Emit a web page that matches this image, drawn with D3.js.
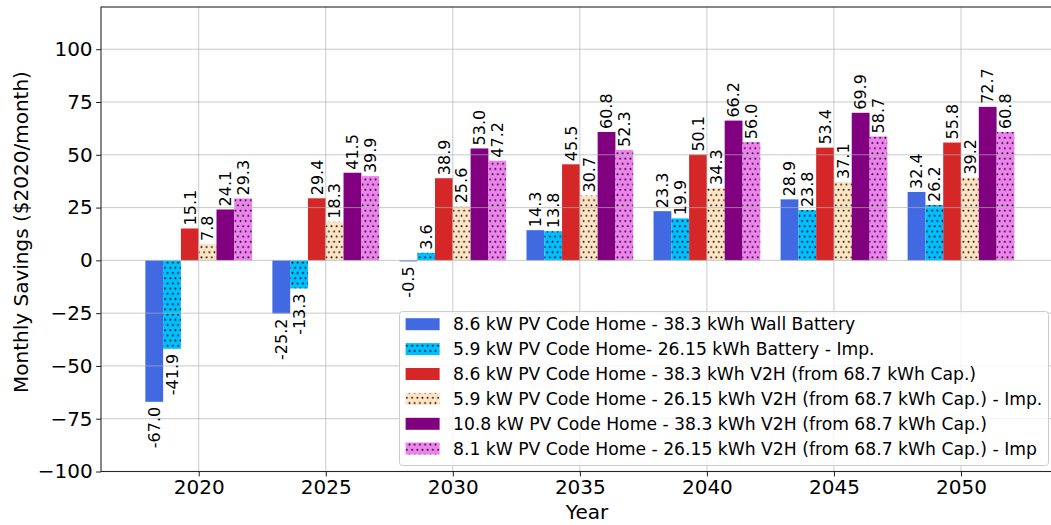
<!DOCTYPE html>
<html>
<head>
<meta charset="utf-8">
<script src="https://cdn.jsdelivr.net/npm/d3@7"></script>
<style>
  html, body { margin: 0; padding: 0; background: #fff; }
  svg { display: block; font-family: "DejaVu Sans", sans-serif; }
</style>
</head>
<body>
<svg id="chart" width="1051" height="525"></svg>
<script>
// ---- Data ----
const years = [2020, 2025, 2030, 2035, 2040, 2045, 2050];
const seriesNames = [
  "8.6 kW PV Code Home - 38.3 kWh Wall Battery",
  "5.9 kW PV Code Home- 26.15 kWh Battery - Imp.",
  "8.6 kW PV Code Home - 38.3 kWh V2H (from 68.7 kWh Cap.)",
  "5.9 kW PV Code Home - 26.15 kWh V2H (from 68.7 kWh Cap.) - Imp.",
  "10.8 kW PV Code Home - 38.3 kWh V2H (from 68.7 kWh Cap.)",
  "8.1 kW PV Code Home - 26.15 kWh V2H (from 68.7 kWh Cap.) - Imp"
];
const wallBattery86 = [-67.0, -25.2, -0.5, 14.3, 23.3, 28.9, 32.4];
const battery59Imp = [-41.9, -13.3, 3.6, 13.8, 19.9, 23.8, 26.2];
const v2h86 = [15.1, 29.4, 38.9, 45.5, 50.1, 53.4, 55.8];
const v2h59Imp = [7.8, 18.3, 25.6, 30.7, 34.3, 37.1, 39.2];
const v2h108 = [24.1, 41.5, 53.0, 60.8, 66.2, 69.9, 72.7];
const v2h81Imp = [29.3, 39.9, 47.2, 52.3, 56.0, 58.7, 60.8];
const seriesValues = [wallBattery86, battery59Imp, v2h86, v2h59Imp, v2h108, v2h81Imp];
const yTicks = [-100, -75, -50, -25, 0, 25, 50, 75, 100];
const xTicks = [2020, 2025, 2030, 2035, 2040, 2045, 2050];

// ---- Styles ----
const colors = ["#4169E1", "#00BFFF", "#D62728", "#FFE4C4", "#800080", "#EE82EE"];
const hatched = [false, true, false, true, false, true];
const barWidth = 0.7;

const svg = d3.select("#chart");
const plotLeft = 101, plotRight = 1058.7, plotTop = 7, plotBottom = 471.5;

const x = d3.scaleLinear().domain([2016.155, 2053.845]).range([plotLeft, plotRight]);
const y = d3.scaleLinear().domain([-100, 120]).range([plotBottom, plotTop]);

// patterns
const defs = svg.append("defs");
colors.forEach((c, i) => {
  if (!hatched[i]) return;
  const p = defs.append("pattern")
    .attr("id", "hatch" + i)
    .attr("patternUnits", "userSpaceOnUse")
    .attr("width", 5.2).attr("height", 10.4);
  p.append("rect").attr("width", 5.2).attr("height", 10.4).attr("fill", c);
  p.append("circle").attr("cx", 1.3).attr("cy", 2.6).attr("r", 0.9).attr("fill", "#000");
  p.append("circle").attr("cx", 3.9).attr("cy", 7.8).attr("r", 0.9).attr("fill", "#000");
});
const fillFor = i => hatched[i] ? `url(#hatch${i})` : colors[i];

svg.append("rect").attr("width", 1051).attr("height", 525).attr("fill", "#fff");

// clip
defs.append("clipPath").attr("id", "plotclip")
  .append("rect").attr("x", plotLeft).attr("y", plotTop)
  .attr("width", plotRight - plotLeft).attr("height", plotBottom - plotTop);

// bars
const barsG = svg.append("g").attr("clip-path", "url(#plotclip)");
seriesValues.forEach((vals, si) => {
  barsG.selectAll(null).data(vals.map((v, k) => ({ v, yr: years[k] })))
    .enter().append("rect")
    .attr("x", d => x(d.yr + (si - 2.5) * barWidth - barWidth / 2))
    .attr("width", d => x(d.yr + (si - 2.5) * barWidth + barWidth / 2) - x(d.yr + (si - 2.5) * barWidth - barWidth / 2))
    .attr("y", d => y(Math.max(0, d.v)))
    .attr("height", d => Math.abs(y(d.v) - y(0)))
    .attr("fill", fillFor(si));
});

// grid (above bars, like matplotlib)
const gridG = svg.append("g").attr("clip-path", "url(#plotclip)");
gridG.selectAll(".hg").data(yTicks).enter().append("line")
  .attr("x1", plotLeft).attr("x2", plotRight)
  .attr("y1", d => y(d)).attr("y2", d => y(d))
  .attr("stroke", "#b0b0b0").attr("stroke-width", 0.8).attr("stroke-opacity", 0.85);
gridG.selectAll(".vg").data(xTicks).enter().append("line")
  .attr("y1", plotTop).attr("y2", plotBottom)
  .attr("x1", d => x(d)).attr("x2", d => x(d))
  .attr("stroke", "#b0b0b0").attr("stroke-width", 0.8).attr("stroke-opacity", 0.85);

// axes
const yAxis = d3.axisLeft(y).tickValues(yTicks).tickSize(4.9).tickPadding(3.5);
const yg = svg.append("g").attr("transform", `translate(${plotLeft},0)`).call(yAxis);
yg.select(".domain").remove();
yg.selectAll("text").attr("font-size", 20).attr("fill", "#000").attr("font-family", "DejaVu Sans");
yg.selectAll("line").attr("stroke", "#000").attr("stroke-width", 0.9);

const xAxis = d3.axisBottom(x).tickValues(xTicks).tickFormat(d3.format("d")).tickSize(4.9).tickPadding(3.5);
const xg = svg.append("g").attr("transform", `translate(0,${plotBottom})`).call(xAxis);
xg.select(".domain").remove();
xg.selectAll("text").attr("font-size", 20).attr("fill", "#000").attr("font-family", "DejaVu Sans");
xg.selectAll("line").attr("stroke", "#000").attr("stroke-width", 0.9);

// spines
svg.append("rect").attr("x", plotLeft).attr("y", plotTop)
  .attr("width", plotRight - plotLeft).attr("height", plotBottom - plotTop)
  .attr("fill", "none").attr("stroke", "#262626").attr("stroke-width", 1.1);

// axis labels
svg.append("text").attr("x", (plotLeft + 1051) / 2 + 11).attr("y", 519)
  .attr("text-anchor", "middle").attr("font-size", 20).text("Year");
svg.append("text").attr("transform", "translate(28,232) rotate(-90)")
  .attr("text-anchor", "middle").attr("font-size", 20).text("Monthly Savings ($2020/month)");

// bar value labels
const labG = svg.append("g");
seriesValues.forEach((vals, si) => {
  vals.forEach((v, k) => {
    const cx = x(years[k] + (si - 2.5) * barWidth);
    const pos = v >= 0;
    const yy = pos ? y(v) - 3 : y(v) + 5;
    labG.append("text")
      .attr("transform", `translate(${cx},${yy}) rotate(-90)`)
      .attr("text-anchor", pos ? "start" : "end")
      .attr("dy", "0.36em")
      .attr("font-size", 16)
      .attr("fill", "#000")
      .text(v.toFixed(1));
  });
});

// legend
const lg = svg.append("g");
lg.append("rect").attr("x", 399.5).attr("y", 311.5).attr("width", 649).attr("height", 154)
  .attr("rx", 3).attr("fill", "#fff").attr("fill-opacity", 0.8)
  .attr("stroke", "#cccccc").attr("stroke-width", 1);
const rowY = [324.2, 349.1, 374, 398.9, 423.8, 448.5];
seriesNames.forEach((name, i) => {
  lg.append("rect").attr("x", 405.6).attr("y", rowY[i] - 6).attr("width", 34).attr("height", 12)
    .attr("fill", fillFor(i));
  lg.append("text").attr("x", 453).attr("y", rowY[i]).attr("dy", "0.36em")
    .attr("font-size", 17.2).attr("fill", "#000").text(name);
});
</script>
</body>
</html>
